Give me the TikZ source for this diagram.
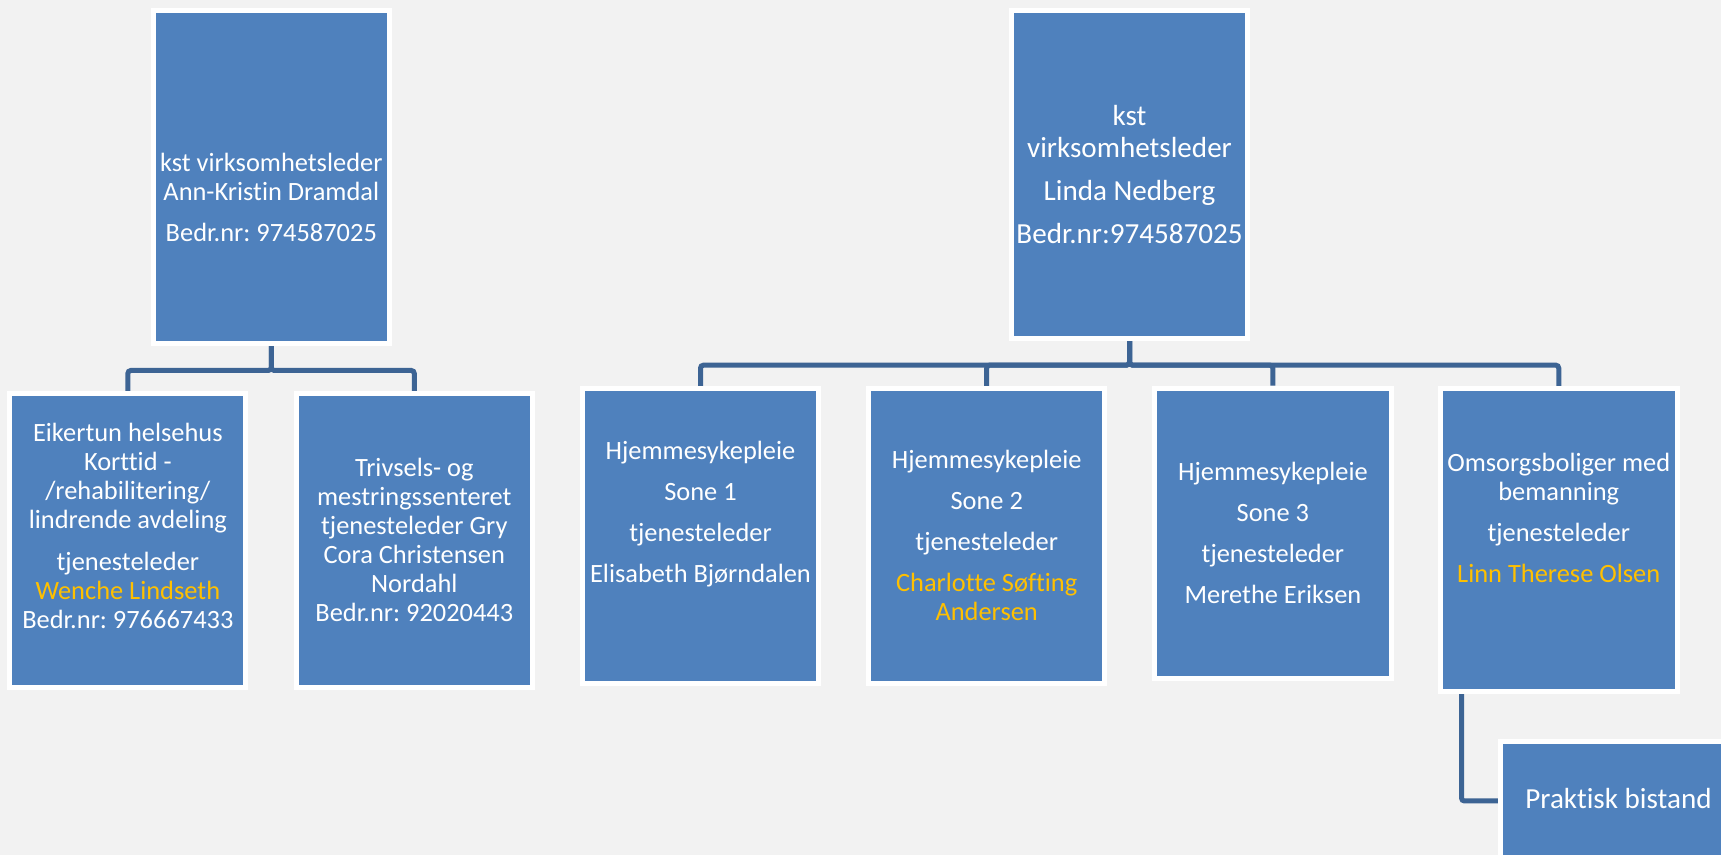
\documentclass[tikz,border=0pt]{standalone}
\usepackage{fontspec}
\setmainfont{Carlito}[Ligatures=NoCommon]
\frenchspacing
\usetikzlibrary{backgrounds,calc}
\definecolor{boxblue}{HTML}{4F81BD}
\definecolor{connblue}{HTML}{3D6494}
\definecolor{bgcol}{HTML}{F2F2F2}
\definecolor{gold}{HTML}{FFC000}
\begin{document}
\begin{tikzpicture}[x=0.5pt,y=-0.5pt,
  box/.style={draw=white, line width=2.5pt, fill=boxblue, inner sep=0pt},
  txt/.style={text=white, align=center, inner sep=0pt, font=\fontsize{13.2pt}{14.5pt}\selectfont},
  bigtxt/.style={txt, font=\fontsize{14.55pt}{16pt}\selectfont},
  conn/.style={draw=connblue, line width=2.5pt, rounded corners=1.5pt}]
\useasboundingbox (0,0) rectangle (1721,855);

% boxes
\node[box, minimum width=118.15pt, minimum height=166.5pt] (lroot) at (271.3,177) {};
\node[txt] (lroot-t) at (271.3,197) {kst virksomhetsleder\\Ann-Kristin Dramdal\\[6pt]Bedr.nr: 974587025};

\node[box, minimum width=118.05pt, minimum height=147pt] (lc1) at (127.85,540.5) {};
\node[txt] (lc1-t) at (127.85,526) {Eikertun helsehus\\Korttid -\\/rehabilitering/\\lindrende avdeling\\[6.5pt]tjenesteleder\\\textcolor{gold}{Wenche Lindseth}\\Bedr.nr: 976667433};

\node[box, minimum width=118pt, minimum height=147pt] (lc2) at (414.3,540.5) {};
\node[txt] (lc2-t) at (414.3,540) {Trivsels- og\\mestringssenteret\\tjenesteleder Gry\\Cora Christensen\\Nordahl\\Bedr.nr: 92020443};

\node[box, minimum width=118pt, minimum height=163.85pt] (rroot) at (1129.5,174.3) {};
\node[bigtxt] (rroot-t) at (1129.5,175) {kst\\virksomhetsleder\\[5.5pt]Linda Nedberg\\[5.5pt]Bedr.nr:974587025};

\node[box, minimum width=117.85pt, minimum height=147.5pt] (rc1) at (700.5,536) {};
\node[txt] (rc1-t) at (700.5,514) {Hjemmesykepleie\\[6pt]Sone 1\\[6pt]tjenesteleder\\[6pt]Elisabeth Bjørndalen};

\node[box, minimum width=117.9pt, minimum height=147.5pt] (rc2) at (986.7,536) {};
\node[txt] (rc2-t) at (986.7,535.5) {Hjemmesykepleie\\[6pt]Sone 2\\[6pt]tjenesteleder\\[6pt]\textcolor{gold}{Charlotte Søfting}\\\textcolor{gold}{Andersen}};

\node[box, minimum width=118.1pt, minimum height=145pt] (rc3) at (1272.9,533.1) {};
\node[txt] (rc3-t) at (1272.9,533) {Hjemmesykepleie\\[6pt]Sone 3\\[6pt]tjenesteleder\\[6pt]Merethe Eriksen};

\node[box, minimum width=118.25pt, minimum height=151.5pt] (rc4) at (1558.75,540) {};
\node[txt] (rc4-t) at (1558.75,518) {Omsorgsboliger med\\bemanning\\[6pt]tjenesteleder\\[6pt]\textcolor{gold}{Linn Therese Olsen}};

\node[box, minimum width=118pt, minimum height=59.5pt] (prak) at (1618.5,801) {};
\node[bigtxt] (prak-t) at (1618.5,799) {Praktisk bistand};

% background and connectors
\begin{scope}[on background layer]
\fill[bgcol] (0,0) rectangle (1721,855);
\draw[conn] (lroot.south) -- ++(0,24.5) -| (lc1.north);
\draw[conn] (lroot.south) -- ++(0,24.5) -| (lc2.north);
\draw[conn] (rroot.south) -- ++(0,24.5) -| (rc1.north);
\draw[conn] (rroot.south) -- ++(0,24.5) -| (rc2.north);
\draw[conn] (rroot.south) -- ++(0,24.5) -| (rc3.north);
\draw[conn] (rroot.south) -- ++(0,24.5) -| (rc4.north);
\draw[conn] ($(rc4.south west)+(23.5,0)$) |- (prak.west);
\end{scope}
\end{tikzpicture}
\end{document}
